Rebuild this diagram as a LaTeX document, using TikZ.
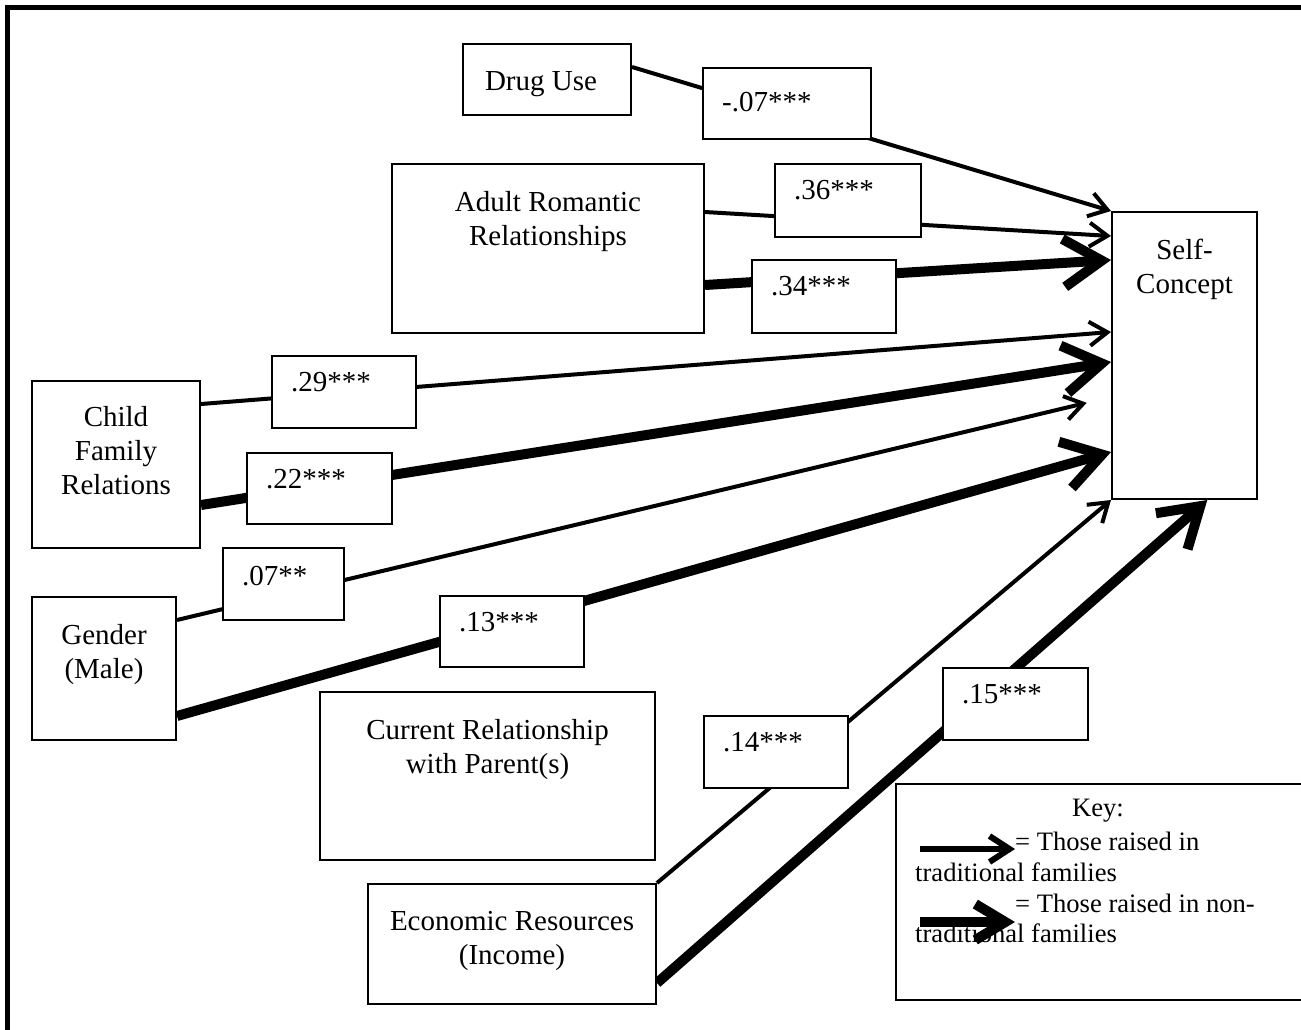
\documentclass[tikz,border=0pt]{standalone}
\usepackage{fontspec}
\setmainfont{Liberation Serif}
\usetikzlibrary{arrows.meta,calc}
\pgfdeclarelayer{background}
\pgfsetlayers{background,main}
\tikzset{
  varbox/.style={draw, line width=2pt, fill=white, inner sep=0pt},
  boxtext/.style={anchor=north, align=center, inner sep=0pt, yshift=-28pt},
  coeftext/.style={anchor=north west, inner sep=0pt, xshift=20pt, yshift=-17pt},
  keytext/.style={font=\fontsize{26.6}{30.7}\selectfont, align=left, inner sep=0pt},
  thinpath/.style={line width=4pt, -{Straight Barb[length=18pt,width=24pt]}},
  thickpath/.style={line width=10pt, -{Straight Barb[length=38pt,width=48pt]}},
  keythin/.style={line width=6pt, -{Straight Barb[length=20pt,width=26pt]}},
  keythick/.style={line width=10pt, -{Straight Barb[length=30pt,width=36pt]}},
}
\begin{document}
\begin{tikzpicture}[x=1pt, y=-1pt, every node/.style={font=\fontsize{29}{34}\selectfont}]
  \useasboundingbox (0,0) rectangle (1301,1029);
  % frame
  \draw[line width=5pt] (7.5,1040) -- (7.5,7.5) -- (1310,7.5);

  % variables
  \node[varbox, minimum width=168pt, minimum height=71pt, label={[boxtext, xshift=-6pt]north:Drug Use}] (drug) at (547,79.5) {};
  \node[varbox, minimum width=312pt, minimum height=169pt, label={[boxtext]north:Adult Romantic\\Relationships}] (arr) at (548,248.5) {};
  \node[varbox, minimum width=145pt, minimum height=287pt, label={[boxtext]north:Self-\\Concept}] (sc) at (1184.5,355.5) {};
  \node[varbox, minimum width=168pt, minimum height=167pt, label={[boxtext, yshift=2pt]north:Child\\Family\\Relations}] (cfr) at (116,464.5) {};
  \node[varbox, minimum width=144pt, minimum height=143pt, label={[boxtext]north:Gender\\(Male)}] (gen) at (104,668.5) {};
  \node[varbox, minimum width=335pt, minimum height=168pt, label={[boxtext]north:Current Relationship\\with Parent(s)}] (crp) at (487.5,776) {};
  \node[varbox, minimum width=288pt, minimum height=120pt, label={[boxtext]north:Economic Resources\\(Income)}] (econ) at (512,944) {};

  % coefficients
  \node[varbox, minimum width=168pt, minimum height=71pt, label={[coeftext, yshift=-8pt]north west:-.07***}] (c07) at (787,103.5) {};
  \node[varbox, minimum width=146pt, minimum height=73pt, label={[coeftext]north west:.36***}] (c36) at (848,200.5) {};
  \node[varbox, minimum width=144pt, minimum height=73pt, label={[coeftext]north west:.34***}] (c34) at (824,296.5) {};
  \node[varbox, minimum width=144pt, minimum height=72pt, label={[coeftext]north west:.29***}] (c29) at (344,392) {};
  \node[varbox, minimum width=145pt, minimum height=71pt, label={[coeftext]north west:.22***}] (c22) at (319.5,488.5) {};
  \node[varbox, minimum width=121pt, minimum height=72pt, label={[coeftext, yshift=-2pt]north west:.07**}] (c07b) at (283.5,584) {};
  \node[varbox, minimum width=144pt, minimum height=71pt, label={[coeftext]north west:.13***}] (c13) at (512,631.5) {};
  \node[varbox, minimum width=144pt, minimum height=72pt, label={[coeftext]north west:.14***}] (c14) at (776,752) {};
  \node[varbox, minimum width=145pt, minimum height=72pt, label={[coeftext]north west:.15***}] (c15) at (1015.5,704) {};

  % paths
  \begin{pgfonlayer}{background}
    \draw[thinpath] (drug.east |- 0,67) -- (sc.north west);
    \draw[thinpath] (arr.east |- 0,212) -- (sc.west |- 0,236);
    \draw[thickpath] (arr.east |- 0,285) -- (sc.west |- 0,260);
    \draw[thinpath] (cfr.east |- 0,404) -- (sc.west |- 0,332);
    \draw[thickpath] (cfr.east |- 0,505) -- (sc.west |- 0,362);
    \draw[thinpath, shorten >=25pt] (gen.east |- 0,620) -- (sc.west |- 0,397);
    \draw[thickpath] (gen.east |- 0,716) -- (sc.west |- 0,452);
    \draw[thinpath] (econ.north east) -- (sc.south west);
    \draw[thickpath] (econ.east |- 0,983) -- ($(sc.south west)!0.655!(sc.south east)$);
  \end{pgfonlayer}

  % key
  \node[varbox, minimum width=414pt, minimum height=216pt,
    label={[keytext, anchor=north, yshift=-16pt, xshift=-5pt]north:{Key:}}] (key) at (1103,892) {};
  \node[keytext, anchor=north west] (keylines) at (915,832)
    {\hspace*{100pt}= Those raised in\\traditional families\\\hspace*{100pt}= Those raised in non-\\traditional families};
  \coordinate (kthinA) at (920,849);
  \coordinate (kthinB) at (1015,849);
  \coordinate (kthickA) at (920,922);
  \coordinate (kthickB) at (1015,922);
  \draw[keythin] (kthinA) -- (kthinB);
  \draw[keythick] (kthickA) -- (kthickB);
\end{tikzpicture}
\end{document}
